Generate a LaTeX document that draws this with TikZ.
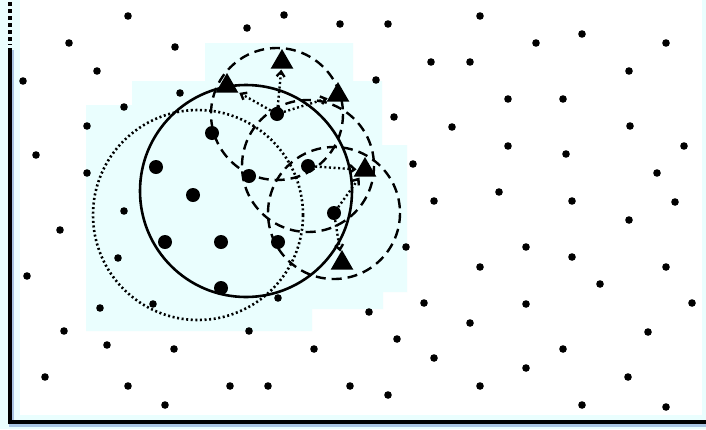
\documentclass[tikz,border=0pt]{standalone}
\usepackage{xcolor}
\usepackage{tikz}
\usetikzlibrary{positioning,arrows.meta,shapes.geometric}
\definecolor{celeste}{HTML}{EAFEFE}
\definecolor{sombra}{HTML}{A9C4E2}

\begin{document}
\begin{tikzpicture}[
  x=1pt, y=-1pt,
  punto/.style={circle, fill=black, inner sep=0pt, minimum size=7.6pt},
  puntogrande/.style={circle, fill=black, inner sep=0pt, minimum size=14pt},
  triangulo/.style={regular polygon, regular polygon sides=3, fill=black, inner sep=0pt, minimum size=26pt},
  discontinua/.style={line width=2.4pt, dash pattern=on 10pt off 6pt},
  punteada/.style={line width=2.6pt, dash pattern=on 2pt off 2.6pt},
  flecha/.style={-{Straight Barb[length=5pt,width=8pt]}, line width=2.4pt, dash pattern=on 2pt off 2.6pt, shorten >=1pt}
]
  \useasboundingbox (0,0) rectangle (706,429);
  \fill[celeste] (0,0) rectangle (706,429);
  \fill[white] (20,0) rectangle (702,415);
  % zona sombreada
  \fill[celeste] (205,43) -- (353,43) -- (353,81) -- (382,81) -- (382,145) -- (407,145)
    -- (407,292) -- (383,292) -- (383,309) -- (312,309) -- (312,331) -- (86,331)
    -- (86,105) -- (132,105) -- (132,81) -- (205,81) -- cycle;
  % ejes
  \draw[sombra, line width=5pt] (11.5,50) -- (11.5,424) -- (706,424);
  \draw[line width=3.6pt] (10,48) -- (10,422) -- (706,422);
  \draw[line width=3.6pt, dash pattern=on 3.5pt off 3.5pt] (10,2) -- (10,45);

  \coordinate (k1) at (277,114);
  \coordinate (k2) at (308,166);
  \coordinate (k3) at (334,213);
  % circulos
  \draw[line width=2.6pt] (246,191) circle (106);
  \draw[punteada] (198,215) circle (105);
  \foreach \k in {k1,k2,k3}
    \draw[discontinua] (\k) circle (66);

  % puntos pequenos
  \foreach \px/\py [count=\i] in {128/16, 284/15, 247/28, 340/24, 388/24, 480/16, 69/43, 175/47,
      536/43, 582/34, 666/43, 23/81, 97/71, 376/80, 431/62, 470/62, 629/71, 180/93,
      124/107, 87/126, 87/173, 394/117, 508/99, 563/99, 452/127, 630/126, 36/155,
      413/164, 508/146, 566/154, 684/146, 657/173, 124/211, 434/201, 499/192, 572/201,
      675/202, 60/230, 118/258, 406/247, 526/247, 629/220, 480/267, 572/257, 666/267,
      27/276, 100/308, 153/304, 278/298, 369/312, 424/303, 526/304, 600/284, 692/303,
      64/331, 249/331, 470/323, 397/339, 563/349, 648/332, 107/345, 174/349, 314/349,
      434/358, 526/368, 628/377, 45/377, 128/386, 230/386, 268/386, 350/386, 480/386,
      165/405, 388/395, 582/405, 666/407}
    \node[punto] (p\i) at (\px,\py) {};

  % puntos grandes
  \node[puntogrande] (c1) at (k1) {};
  \node[puntogrande] (c2) at (k2) {};
  \node[puntogrande] (c3) at (k3) {};
  \node[puntogrande] (g1) at (156,167) {};
  \node[puntogrande] (g2) at (193,195) {};
  \node[puntogrande] (g3) at (212,133) {};
  \node[puntogrande] (g4) at (165,242) {};
  \node[puntogrande] (g5) at (221,242) {};
  \node[puntogrande] (g6) at (278,242) {};
  \node[puntogrande] (g7) at (221,288) {};
  \node[puntogrande] (g8) at (249,176) {};

  % triangulos
  \node[triangulo] (t1) at (282,62) {};
  \node[triangulo] (t2) at (227,86) {};
  \node[triangulo] (t3) at (338,95) {};
  \node[triangulo] (t4) at (365,170) {};
  \node[triangulo] (t5) at (342,263) {};

  \draw[flecha] (c1) -- (t1);
  \draw[flecha] (c1) -- (t2);
  \draw[flecha] (c1) -- (t3);
  \draw[flecha] (c2) -- (t4);
  \draw[flecha] (c3) -- (t4);
  \draw[flecha] (c3) -- (t5);
\end{tikzpicture}
\end{document}
